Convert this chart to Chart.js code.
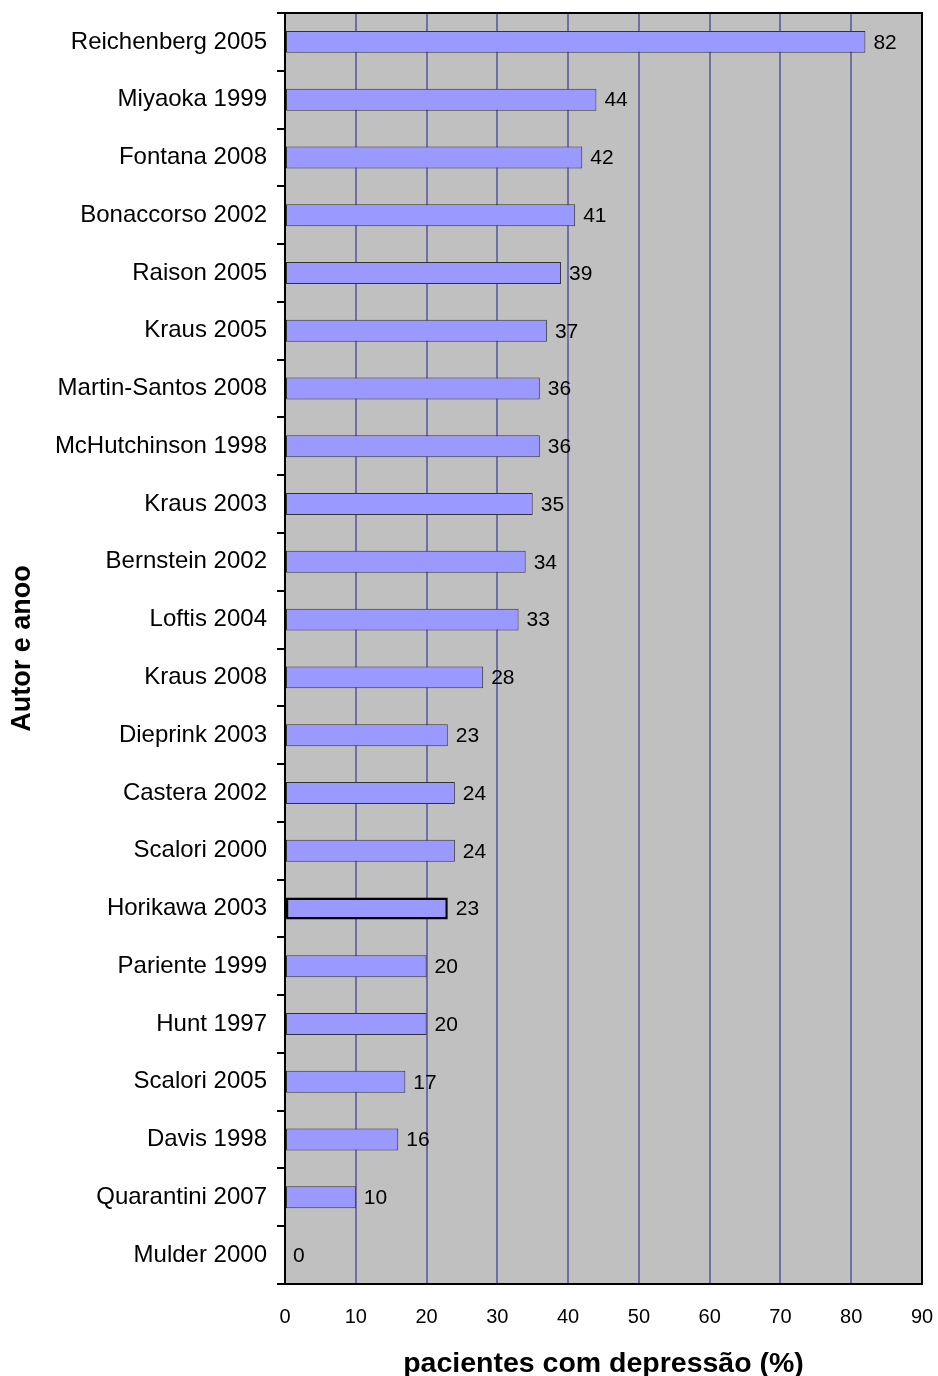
<!DOCTYPE html>
<html>
<head>
<meta charset="utf-8">
<script src="https://cdn.jsdelivr.net/npm/chart.js@4"></script>
<style>
  html, body { margin: 0; padding: 0; background: #fff; }
  #wrap { width: 938px; height: 1376px; }
</style>
</head>
<body>
<div id="wrap"><canvas id="chart" width="938" height="1376"></canvas></div>
<script>
const studies = [
  "Reichenberg 2005", "Miyaoka 1999", "Fontana 2008", "Bonaccorso 2002",
  "Raison 2005", "Kraus 2005", "Martin-Santos 2008", "McHutchinson 1998",
  "Kraus 2003", "Bernstein 2002", "Loftis 2004", "Kraus 2008",
  "Dieprink 2003", "Castera 2002", "Scalori 2000", "Horikawa 2003",
  "Pariente 1999", "Hunt 1997", "Scalori 2005", "Davis 1998",
  "Quarantini 2007", "Mulder 2000"
];
const percentDepressed = [82, 44, 42, 41, 39, 37, 36, 36, 35, 34, 33, 28, 23, 24, 24, 23, 20, 20, 17, 16, 10, 0];
const highlighted = "Horikawa 2003";
const FONT = "Arial, 'Liberation Sans', sans-serif";

// plot background, frame and value labels
const plotDecor = {
  id: "plotDecor",
  beforeDraw(chart) {
    const { ctx, chartArea: a } = chart;
    ctx.save();
    ctx.fillStyle = "#C0C0C0";
    ctx.fillRect(a.left, a.top, a.right - a.left, a.bottom - a.top);
    ctx.restore();
  },
  afterDatasetsDraw(chart) {
    const { ctx, chartArea: a } = chart;
    const meta = chart.getDatasetMeta(0);
    ctx.save();
    ctx.font = "21px " + FONT;
    ctx.fillStyle = "#000";
    ctx.textBaseline = "middle";
    meta.data.forEach((bar, i) => {
      ctx.fillText(String(percentDepressed[i]), bar.x + 8, bar.y + 1);
    });
    ctx.strokeStyle = "#000";
    ctx.lineWidth = 2;
    ctx.beginPath();
    ctx.moveTo(a.left, a.top);
    ctx.lineTo(a.right, a.top);
    ctx.lineTo(a.right, a.bottom);
    ctx.stroke();
    ctx.restore();
  }
};

new Chart(document.getElementById("chart"), {
  type: "bar",
  data: {
    labels: studies,
    datasets: [{
      data: percentDepressed,
      backgroundColor: "#9999FF",
      borderColor: studies.map(s => s === highlighted ? "#000" : "#333"),
      borderWidth: studies.map(s => s === highlighted ? 2.5 : 1),
      borderSkipped: false,
      barPercentage: 0.76,
      categoryPercentage: 0.5
    }]
  },
  options: {
    indexAxis: "y",
    responsive: false,
    animation: false,
    layout: { padding: { top: 13, right: 16, bottom: -5, left: 0 } },
    plugins: { legend: { display: false }, tooltip: { enabled: false } },
    scales: {
      x: {
        min: 0, max: 90,
        afterFit(scale) {
          scale.height = 97;
          scale.paddingLeft = 0;
          scale.paddingRight = 0;
        },
        ticks: { stepSize: 10, color: "#000", padding: 21,
          font: { family: FONT, size: 20 } },
        grid: { color: "#6F6FA8", lineWidth: 2, drawTicks: false },
        border: { color: "#000", width: 2 },
        title: { display: true, text: "pacientes com depressão (%)", color: "#000",
          padding: { top: 0, bottom: 0 },
          font: { family: FONT, size: 28.5, weight: "bold" } }
      },
      y: {
        afterFit(scale) {
          scale.width = 285;
          scale.paddingTop = 0;
          scale.paddingBottom = 0;
        },
        ticks: { color: "#000", padding: 10,
          font: { family: FONT, size: 24 } },
        grid: { offset: true, drawOnChartArea: false, tickLength: 8, color: "#000", lineWidth: 2 },
        border: { color: "#000", width: 2 },
        title: { display: true, text: "Autor e anoo", color: "#000",
          padding: { top: 6, bottom: 0 },
          font: { family: FONT, size: 27, weight: "bold" } }
      }
    }
  },
  plugins: [plotDecor]
});
</script>
</body>
</html>
